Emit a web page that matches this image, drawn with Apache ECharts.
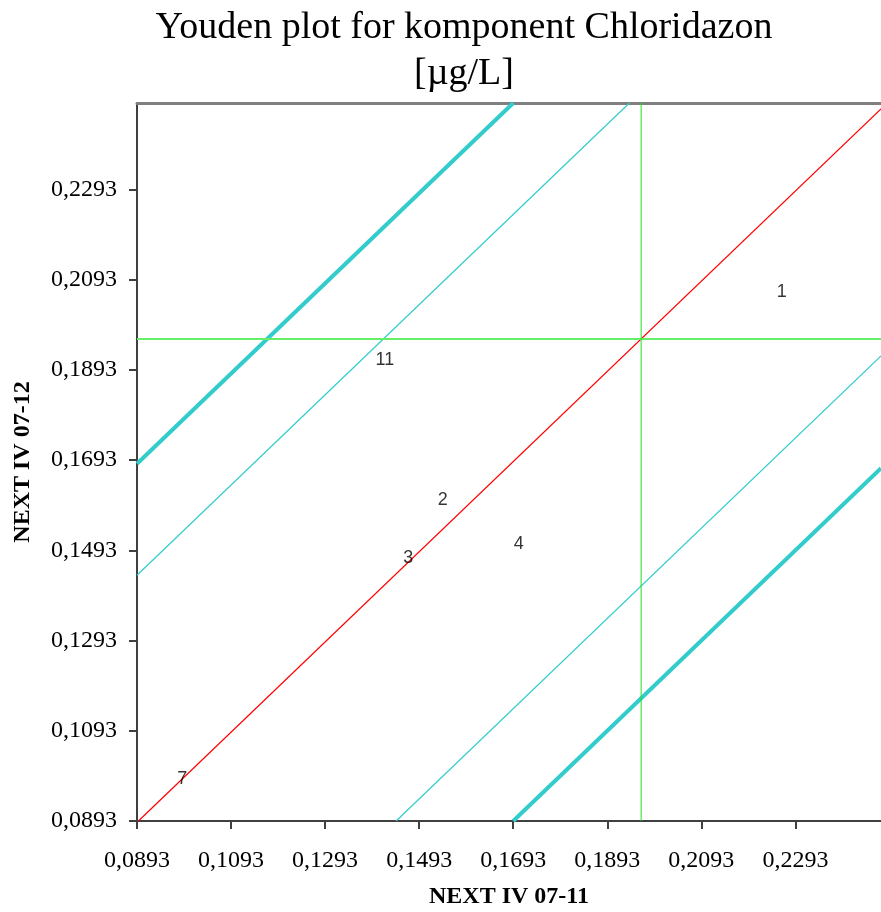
<!DOCTYPE html>
<html>
<head>
<meta charset="utf-8">
<script src="https://cdn.jsdelivr.net/npm/echarts@6/dist/echarts.min.js"></script>
<style>html,body{margin:0;padding:0;background:#fff}#c{width:881px;height:912px}</style>
</head>
<body>
<div id="c"></div>
<script>
// ---- data ----
var labNames = ['1', '11', '2', '3', '4', '7'];
var labX = [0.2264, 0.1420, 0.1543, 0.1470, 0.1705, 0.0989];
var labY = [0.2065, 0.1916, 0.1605, 0.1475, 0.1507, 0.0987];
var ticks = [0.0893, 0.1093, 0.1293, 0.1493, 0.1693, 0.1893, 0.2093, 0.2293];
var medianX = 0.1965;
var medianY = 0.1962;
var thinOffsets = [0.0548, -0.0548];
var thickOffsets = [0.0795, -0.0797];
var xMin = 0.0893, xMax = 0.2475, yMin = 0.0893, yMax = 0.2485;

function fmt(v) { return v.toFixed(4).replace('.', ','); }

// diagonal line y = x + (medianY - medianX) + off, clipped to the axis box
function diag(off) {
  var c = medianY - medianX + off;
  var x0 = Math.max(xMin, yMin - c), x1 = Math.min(xMax, yMax - c);
  return [[x0, x0 + c], [x1, x1 + c]];
}

var series = [];
thickOffsets.forEach(function (o) {
  series.push({ type: 'line', data: diag(o), symbol: 'none', silent: true,
    lineStyle: { color: '#33CCCC', width: 4 }, z: 2 });
});
thinOffsets.forEach(function (o) {
  series.push({ type: 'line', data: diag(o), symbol: 'none', silent: true,
    lineStyle: { color: '#33CCCC', width: 1.2 }, z: 2 });
});
series.push({ type: 'line', data: diag(0), symbol: 'none', silent: true,
  lineStyle: { color: '#FF0000', width: 1.2 }, z: 2 });
series.push({ type: 'line', data: [[xMin, medianY], [xMax, medianY]], symbol: 'none', silent: true,
  lineStyle: { color: '#66EE66', width: 2 }, z: 2 });
series.push({ type: 'line', data: [[medianX, yMin], [medianX, yMax]], symbol: 'none', silent: true,
  lineStyle: { color: '#22DD22', width: 1 }, z: 2 });
series.push({
  type: 'scatter', symbolSize: 1, itemStyle: { color: 'rgba(0,0,0,0)' }, z: 5,
  data: labNames.map(function (n, i) { return { name: n, value: [labX[i], labY[i]] }; }),
  label: { show: true, position: 'inside', formatter: '{b}', color: '#000',
    fontFamily: 'Liberation Sans, Arial, sans-serif', fontSize: 18 }
});

var titleFont = '38px "Liberation Serif", "Times New Roman", serif';
var chart = echarts.init(document.getElementById('c'), null, { renderer: 'canvas' });
chart.setOption({
  animation: false,
  backgroundColor: '#fff',
  grid: { left: 137, right: 0, top: 103, bottom: 91, containLabel: false, outerBoundsMode: 'none' },
  graphic: [
    { type: 'text', style: { text: 'Youden plot for komponent Chloridazon',
      x: 464, y: 28, textAlign: 'center', textVerticalAlign: 'middle', font: titleFont, fill: '#000' } },
    { type: 'text', style: { text: '[\u00b5g/L]', x: 464, y: 74, textAlign: 'center', textVerticalAlign: 'middle',
      font: titleFont, fill: '#000' } }
  ],
  xAxis: [{
    type: 'value', min: xMin, max: xMax, position: 'bottom',
    name: 'NEXT IV 07-11', nameLocation: 'middle', nameGap: 64,
    nameTextStyle: { fontFamily: 'Liberation Serif', fontWeight: 'bold', fontSize: 24, color: '#000' },
    axisLine: { show: true, lineStyle: { color: '#404040', width: 2 } },
    axisTick: { show: true, length: 8, inside: false, customValues: ticks, lineStyle: { color: '#404040', width: 2 } },
    axisLabel: { customValues: ticks, formatter: fmt, margin: 28, color: '#000',
      fontFamily: 'Liberation Serif', fontSize: 24, showMinLabel: true, showMaxLabel: true },
    splitLine: { show: false }
  }, {
    type: 'value', min: xMin, max: xMax, position: 'top',
    axisLine: { show: true, lineStyle: { color: '#808080', width: 3 } },
    axisTick: { show: false }, axisLabel: { show: false }, splitLine: { show: false }
  }],
  yAxis: {
    type: 'value', min: yMin, max: yMax,
    name: 'NEXT IV 07-12', nameLocation: 'middle', nameGap: 102, nameRotate: 90,
    nameTextStyle: { fontFamily: 'Liberation Serif', fontWeight: 'bold', fontSize: 24, color: '#000' },
    axisLine: { show: true, lineStyle: { color: '#404040', width: 2 } },
    axisTick: { show: true, length: 8, customValues: ticks, lineStyle: { color: '#404040', width: 2 } },
    axisLabel: { customValues: ticks, formatter: fmt, margin: 20, color: '#000',
      fontFamily: 'Liberation Serif', fontSize: 24, showMinLabel: true, showMaxLabel: true },
    splitLine: { show: false }
  },
  series: series
});
</script>
</body>
</html>
